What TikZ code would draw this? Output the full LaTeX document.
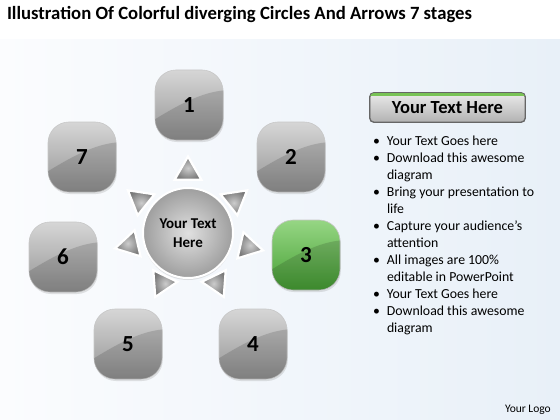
\documentclass[tikz,border=0pt]{standalone}
\usepackage{fontspec}
\setmainfont{Carlito}
\usetikzlibrary{shapes.geometric,shadows,calc}
\definecolor{grnA}{RGB}{150,214,132}
\definecolor{grnB}{RGB}{70,160,52}
\definecolor{bgR}{RGB}{232,240,248}
\definecolor{bgL}{RGB}{251,252,254}
\definecolor{hdgrn}{RGB}{120,195,85}
\newcommand\glossover[1]{%
  \begin{scope}
    \clip[rounded corners=21pt] (#1.north west) rectangle (#1.south east);
    \fill[black,opacity=.14] ($(#1.center)+(-40,18)$) .. controls ($(#1.center)+(-8,-2)$) and ($(#1.center)+(15,-14)$) .. ($(#1.center)+(40,-15)$) -- ($(#1.center)+(40,40)$) -- ($(#1.center)+(-40,40)$) -- cycle;
  \end{scope}}
\newcommand\bul{\hspace*{3pt}\makebox[14pt][l]{\textbullet}}
\newcommand\ind{\hspace*{17pt}}
\tikzset{
  stagebox/.style={rounded corners=21pt, minimum width=68pt, minimum height=70pt,
    inner sep=0pt, outer sep=0pt, draw=black!22, line width=.6pt,
    font=\bfseries\fontsize{23}{23}\selectfont, text=black,
    drop shadow={opacity=.22,shadow xshift=.8pt,shadow yshift=-2pt}},
  graybox/.style={stagebox, top color=black!16, bottom color=black!42},
  greenbox/.style={stagebox, top color=grnA, bottom color=grnB},
  arrowtri/.style={regular polygon, regular polygon sides=3, minimum size=31pt,
    inner sep=0pt, draw=white, line width=2.2pt, inner color=black!20, outer color=black!52,
    drop shadow={opacity=.2,shadow xshift=0pt,shadow yshift=-.8pt}},
  hub/.style={circle, minimum size=90pt, inner sep=0pt, draw=white, line width=2pt,
    inner color=black!12, outer color=black!38, align=center,
    font=\bfseries\fontsize{15}{19}\selectfont,
    drop shadow={opacity=.22,shadow xshift=0pt,shadow yshift=-2pt}},
  header/.style={rounded corners=4pt, minimum width=155pt, minimum height=29pt, inner sep=0pt,
    draw=black!60, line width=.8pt, top color=black!8, bottom color=black!30},
  plaintext/.style={inner sep=0pt, outer sep=0pt}
}
\begin{document}
\begin{tikzpicture}[x=1pt,y=-1pt]
\useasboundingbox (0,0) rectangle (560,420);
\fill[white] (0,0) rectangle (560,420);
\fill[left color=bgL, right color=bgR] (0,40) rectangle (560,420);

\node[plaintext, anchor=base west, font=\bfseries\fontsize{18.7}{18.7}\selectfont] (title) at (7,20)
  {Illustration Of Colorful diverging Circles And Arrows 7 stages};

% hub
\node[hub] (hub) at (188,233) {Your Text\\Here};

% triangles
\foreach \k/\x/\y/\a in {1/188/172/90, 2/235/200/38.6, 3/248/247/-12.9, 4/217/283/-64.3,
  5/162/283/-115.7, 6/130/245/-167.1, 7/140/200/141.4}{
  \node[arrowtri, rotate=\a-90] (t\k) at (\x,\y) {};
}

% boxes
\foreach \n/\x/\y in {1/189/105, 2/291/157, 4/253/344, 5/128/344, 6/63/257, 7/82/157}{
  \node[graybox] (b\n) at (\x,\y) {};
  \glossover{b\n}
  \node[plaintext, font=\bfseries\fontsize{23}{23}\selectfont] (l\n) at (b\n.center) {\n};
}
\node[greenbox] (b3) at (306,255) {};
\glossover{b3}
\node[plaintext, font=\bfseries\fontsize{23}{23}\selectfont] (l3) at (b3.center) {3};

% right panel
\node[header] (hd) at (447.5,107.5) {};
\begin{scope}
  \clip[rounded corners=4pt] (hd.north west) rectangle (hd.south east);
  \fill[hdgrn] (hd.north west) rectangle ($(hd.north east)+(0,3.5)$);
\end{scope}
\draw[black!60, line width=.8pt, rounded corners=4pt] (hd.north west) rectangle (hd.south east);
\node[plaintext, font=\bfseries\fontsize{18.5}{18.5}\selectfont] (hdt) at (hd.center) {Your Text Here};

\node[plaintext, anchor=north west, align=left, font=\fontsize{13.8}{17}\selectfont] (list) at (370,135.5)
 {\bul Your Text Goes here\\
  \bul Download this awesome\\
  \ind diagram\\
  \bul Bring your presentation to\\
  \ind life\\
  \bul Capture your audience’s\\
  \ind attention\\
  \bul All images are 100\%\\
  \ind editable in PowerPoint\\
  \bul Your Text Goes here\\
  \bul Download this awesome\\
  \ind diagram};

\node[plaintext, anchor=base west, font=\fontsize{11.5}{11.5}\selectfont] (logo) at (505,412) {Your Logo};
\end{tikzpicture}
\end{document}
